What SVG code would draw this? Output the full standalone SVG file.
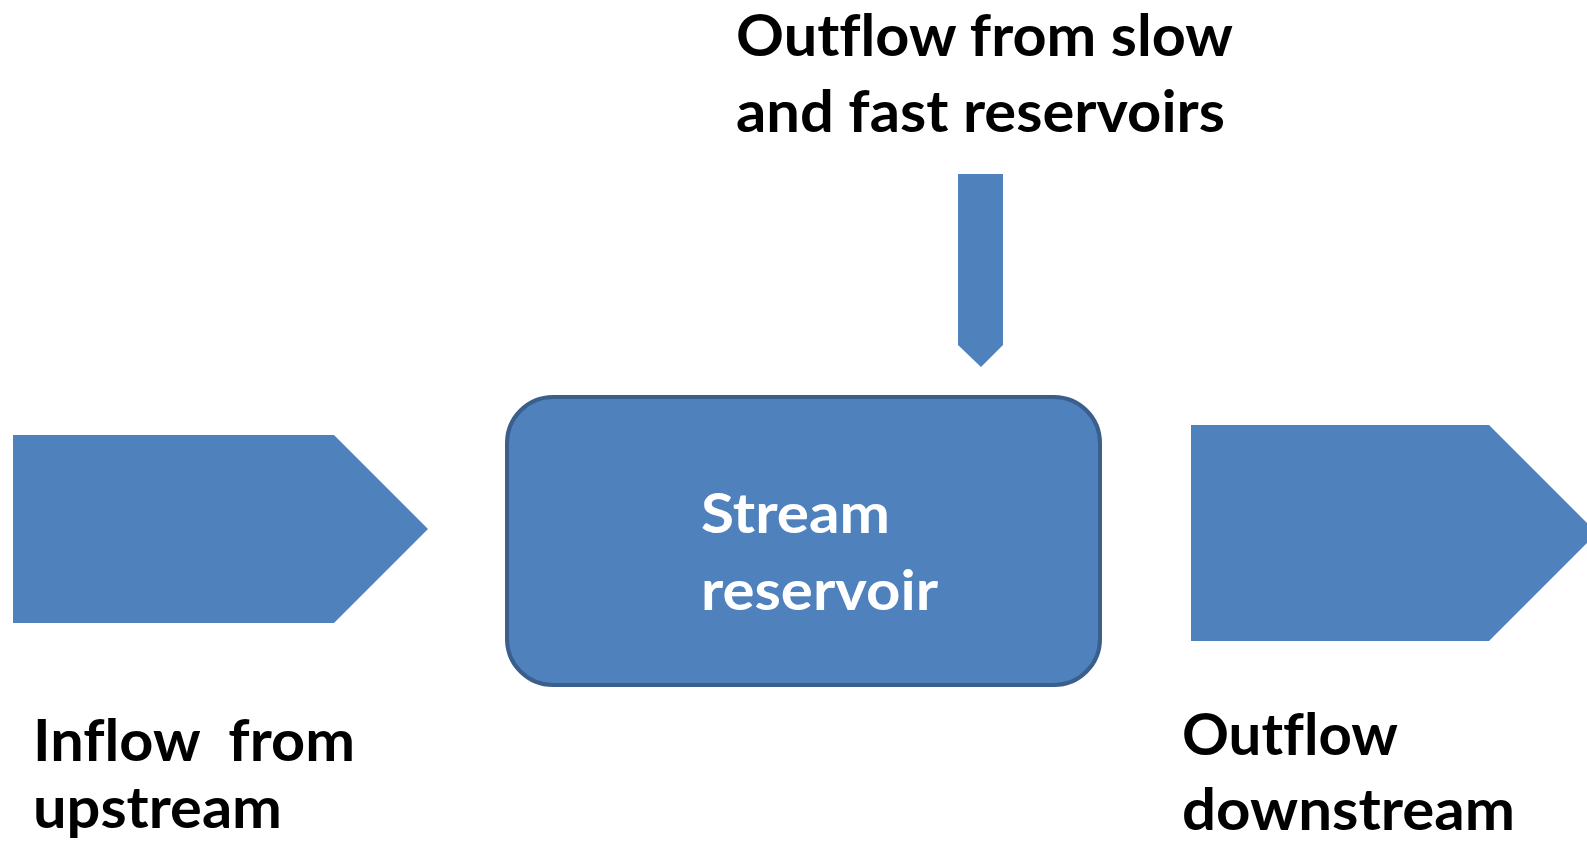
<svg xmlns="http://www.w3.org/2000/svg" width="1587" height="848" viewBox="0 0 1587 848">
<style>
.shape{fill:#4F81BD}
.lbl{font-family:Lato,"Open Sans","Liberation Sans",sans-serif;font-weight:bold;font-size:57px;fill:#000;font-variant-ligatures:none;font-feature-settings:"liga" 0,"clig" 0}
.inner{font-family:Lato,"Open Sans","Liberation Sans",sans-serif;font-weight:bold;font-size:55px;fill:#fff;font-variant-ligatures:none}
</style>
<rect width="1587" height="848" fill="#fff"/>
<g id="connectors">
<polygon id="inflow-arrow" class="shape" points="13,435 334,435 428,529 334,623 13,623"/>
<polygon id="outflow-arrow" class="shape" points="1191,425 1489,425 1597,533 1489,641 1191,641"/>
<polygon id="reservoir-arrow" class="shape" points="958,174 1003,174 1003,345 981,367 958,345"/>
</g>
<g id="stream-reservoir">
<rect x="507" y="397" width="593" height="288" rx="46" ry="46" fill="#4F81BD" stroke="#3A5F8C" stroke-width="4"/>
<text class="inner" x="701" y="533" textLength="189" lengthAdjust="spacingAndGlyphs">Stream</text>
<text class="inner" x="701" y="610" textLength="237" lengthAdjust="spacingAndGlyphs">reservoir</text>
</g>
<g id="label-top">
<text class="lbl" x="736" y="56" textLength="497" lengthAdjust="spacingAndGlyphs">Outflow from slow</text>
<text class="lbl" x="736" y="132" textLength="489" lengthAdjust="spacingAndGlyphs">and fast reservoirs</text>
</g>
<g id="label-inflow">
<text class="lbl" x="33" y="761" textLength="322" lengthAdjust="spacingAndGlyphs" xml:space="preserve">Inflow  from</text>
<text class="lbl" x="33" y="828" textLength="249" lengthAdjust="spacingAndGlyphs">upstream</text>
</g>
<g id="label-outflow">
<text class="lbl" x="1182" y="755" textLength="216" lengthAdjust="spacingAndGlyphs">Outflow</text>
<text class="lbl" x="1182" y="830" textLength="333" lengthAdjust="spacingAndGlyphs">downstream</text>
</g>
</svg>
